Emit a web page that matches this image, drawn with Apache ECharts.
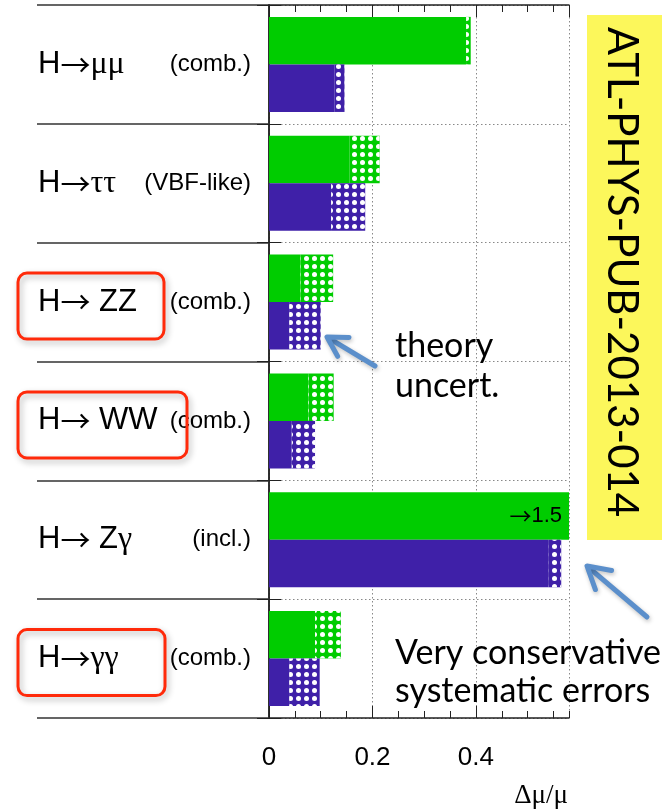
<!DOCTYPE html>
<html><head><meta charset="utf-8">
<script src="https://cdn.jsdelivr.net/npm/echarts@6/dist/echarts.min.js"></script>
<style>html,body{margin:0;padding:0;background:#fff}#c{width:662px;height:812px}</style>
</head><body><div id="c"></div>
<script>
// ---- data ----
const categories = ['H→μμ', 'H→ττ', 'H→ ZZ', 'H→ WW', 'H→ Zγ', 'H→γγ'];
const subLabels = ['(comb.)', '(VBF-like)', '(comb.)', '(comb.)', '(incl.)', '(comb.)'];
// 300 fb-1 (green): without theory uncert. / with theory uncert.
const green300Solid = [0.381, 0.156, 0.061, 0.076, 1.5, 0.089];
const green300Total = [0.390, 0.214, 0.124, 0.125, 1.5, 0.139];
// 3000 fb-1 (purple)
const purple3000Solid = [0.127, 0.120, 0.039, 0.044, 0.541, 0.039];
const purple3000Total = [0.146, 0.186, 0.100, 0.089, 0.565, 0.098];
const xMin = 0, xMax = 0.58, xMajor = 0.2, xMinor = 0.05;
const boxedRows = [2, 3, 5];
const boxWidths = [146, 169, 147];

const GREEN = '#00cc00', PURPLE = '#3f20a8';
const SANS = 'Liberation Sans', CAL = 'Lato', ARROWF = 'Noto Sans CJK JP', GREEKF = 'Liberation Serif';
const chart = echarts.init(document.getElementById('c'), null, {renderer: 'canvas'});

function decal() {
  return {symbol: 'circle', symbolSize: 1, color: '#ffffff', dashArrayX: [5, 3], dashArrayY: [5, 3], rotation: 0};
}
const diff = (t, s) => t.map((v, i) => +(v - s[i]).toFixed(4));
function richText(s) {
  return s.split('').map(ch => ch === '→' ? '{ar|→}' : (/[μτγ]/.test(ch) ? '{gr|' + ch + '}' : '{la|' + ch + '}')).join('');
}
function solidData(arr) {
  return arr.map(v => v > xMax ? {
    value: v,
    label: {show: true, position: 'insideRight', distance: 7,
      formatter: '{ar|→}{la|' + v + '}',
      rich: {ar: {fontFamily: ARROWF, fontSize: 22, color: '#000'}, la: {fontFamily: SANS, fontSize: 22, color: '#000'}}}
  } : v);
}
const grid = {left: 269, right: 93, top: 5, bottom: 94};
const frameColor = '#222';
const dotted = {show: true, lineStyle: {color: '#888', type: [1.5, 2.5], width: 1}};

function xAx(pos, interval, len, opts) {
  return Object.assign({
    type: 'value', position: pos, min: xMin, max: xMax, interval: interval,
    axisLine: {show: true, onZero: false, lineStyle: {color: frameColor, width: 1.5}},
    axisTick: {show: true, inside: true, length: len, lineStyle: {color: frameColor, width: 1}},
    axisLabel: {show: false}, splitLine: {show: false}
  }, opts || {});
}

const option = {
  animation: false,
  textStyle: {fontFamily: SANS},
  grid: grid,
  xAxis: [
    xAx('bottom', xMajor, 12, {
      axisLabel: {show: true, fontSize: 26, color: '#000', margin: 27, showMaxLabel: false, fontFamily: SANS},
      splitLine: dotted,
      name: 'Δμ/μ', nameLocation: 'end', nameGap: -1,
      nameTextStyle: {align: 'right', verticalAlign: 'top', fontFamily: 'Liberation Serif', fontSize: 27, color: '#000', padding: [64, 0, 0, 0]}
    }),
    xAx('bottom', xMinor, 7, {axisLine: {show: false}}),
    xAx('top', xMajor, 12),
    xAx('top', xMinor, 7, {axisLine: {show: false}})
  ],
  yAxis: [
    {type: 'category', data: categories, inverse: true, position: 'left',
     axisLine: {show: true, lineStyle: {color: frameColor, width: 1.5}},
     axisTick: {show: true, inside: false, length: 232, lineStyle: {color: '#333', width: 1.5}},
     axisLabel: {show: true, align: 'left', margin: 231, color: '#000',
       formatter: v => richText(v),
       rich: {
         la: {fontFamily: SANS, fontSize: 31, color: '#000'},
         ar: {fontFamily: ARROWF, fontSize: 30, color: '#000'},
         gr: {fontFamily: GREEKF, fontSize: 32, color: '#000'}
       }},
     splitLine: dotted},
    {type: 'category', data: categories, inverse: true, position: 'left',
     axisLine: {show: false},
     axisTick: {show: true, inside: true, length: 12, lineStyle: {color: frameColor, width: 1}},
     axisLabel: {show: true, align: 'right', margin: 18, fontSize: 24, color: '#000', fontFamily: SANS,
       formatter: (v, i) => subLabels[i]},
     splitLine: {show: false}},
    {type: 'category', data: categories, inverse: true, position: 'right',
     axisLine: {show: true, lineStyle: {color: frameColor, width: 1.5}},
     axisTick: {show: true, inside: true, length: 12, lineStyle: {color: frameColor, width: 1}},
     axisLabel: {show: false}, splitLine: {show: false}}
  ],
  series: [
    {type: 'bar', stack: 'g', data: solidData(green300Solid), itemStyle: {color: GREEN},
     barCategoryGap: '20%', barGap: '0%'},
    {type: 'bar', stack: 'g', data: diff(green300Total, green300Solid), itemStyle: {color: GREEN, decal: decal()},
     barCategoryGap: '20%', barGap: '0%'},
    {type: 'bar', stack: 'p', data: solidData(purple3000Solid), itemStyle: {color: PURPLE},
     barCategoryGap: '20%', barGap: '0%'},
    {type: 'bar', stack: 'p', data: diff(purple3000Total, purple3000Solid), itemStyle: {color: PURPLE, decal: decal()},
     barCategoryGap: '20%', barGap: '0%'}
  ]
};
chart.setOption(option);

// ---- annotations ----
function arrow(tail, tip, headLen, color) {
  const dx = tail[0] - tip[0], dy = tail[1] - tip[1];
  const L = Math.sqrt(dx * dx + dy * dy), ux = dx / L, uy = dy / L;
  const a = 30 * Math.PI / 180;
  const r = (x, y, ang) => [x * Math.cos(ang) - y * Math.sin(ang), x * Math.sin(ang) + y * Math.cos(ang)];
  const p1 = r(ux, uy, a), p2 = r(ux, uy, -a);
  const sty = {stroke: color, lineWidth: 5, lineCap: 'round', lineJoin: 'round',
    shadowBlur: 4, shadowColor: 'rgba(0,0,0,0.25)', shadowOffsetX: 1, shadowOffsetY: 2, fill: null};
  return [
    {type: 'line', shape: {x1: tail[0], y1: tail[1], x2: tip[0] + ux * 2, y2: tip[1] + uy * 2}, style: sty, z: 100},
    {type: 'polyline', shape: {points: [[tip[0] + p1[0] * headLen, tip[1] + p1[1] * headLen], tip,
      [tip[0] + p2[0] * headLen, tip[1] + p2[1] * headLen]]}, style: sty, z: 100}
  ];
}
const graphics = [];
boxedRows.forEach((row, k) => {
  const cy = chart.convertToPixel({yAxisIndex: 0}, categories[row]);
  graphics.push({type: 'rect', shape: {x: 18, y: cy + 4 - 33, width: boxWidths[k], height: 66, r: 9},
    style: {fill: null, stroke: '#ff2a0a', lineWidth: 3, shadowBlur: 6, shadowColor: 'rgba(0,0,0,0.3)', shadowOffsetX: 2, shadowOffsetY: 3}, z: 90});
});
graphics.push({type: 'rect', shape: {x: 587, y: 15, width: 80, height: 525}, style: {fill: '#fcf75b'}, z: 80});
graphics.push({type: 'text', x: 622, y: 272, rotation: -Math.PI / 2, z: 81,
  style: {text: 'ATL-PHYS-PUB-2013-014', fill: '#000', font: '42px ' + CAL, textAlign: 'center', textVerticalAlign: 'middle'}});
const note = (t, x, y) => graphics.push({type: 'text', x: x, y: y, z: 95,
  style: {text: t, fill: '#000', font: '34px ' + CAL, textAlign: 'left', textVerticalAlign: 'middle'}});
note('theory', 395, 346);
note('uncert.', 395, 386);
note('Very conservative', 395, 653);
note('systematic errors', 395, 691);
arrow([375, 366], [327, 337], 22, '#5b8fcb').forEach(g => graphics.push(g));
arrow([647, 617], [587, 566], 25, '#5b8fcb').forEach(g => graphics.push(g));
chart.setOption({graphic: graphics});
</script></body></html>
